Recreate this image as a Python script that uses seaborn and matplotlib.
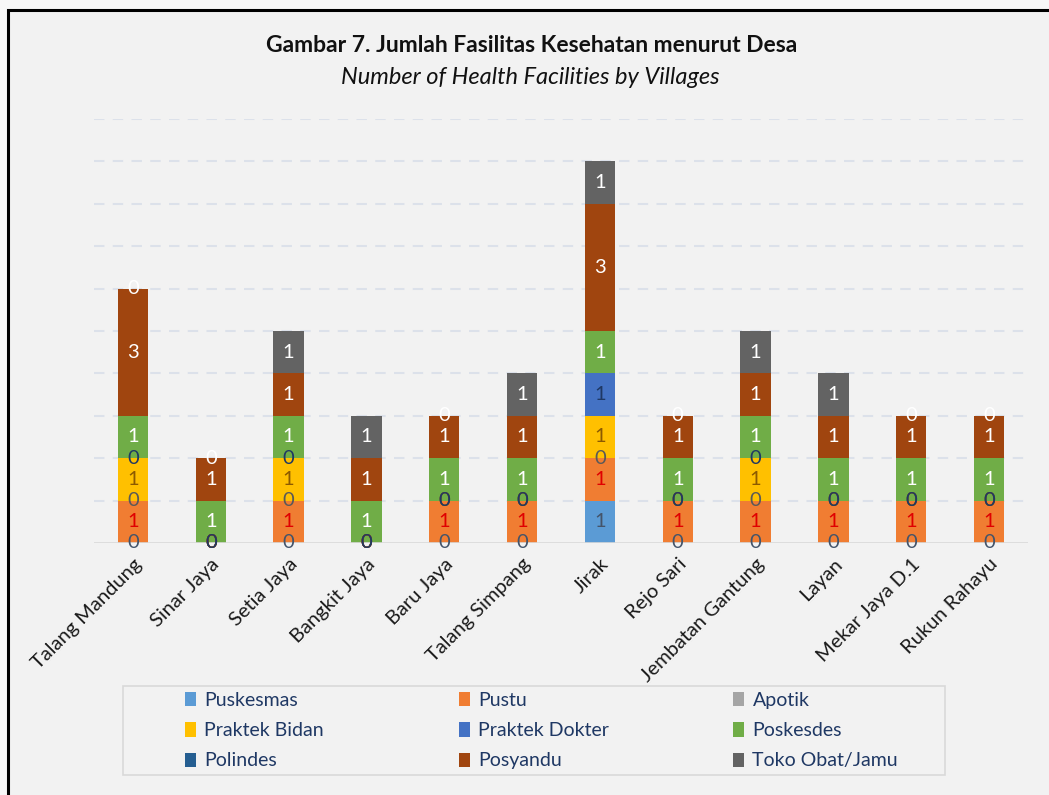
import matplotlib
matplotlib.use("Agg")
import matplotlib.pyplot as plt
import seaborn as sns
import numpy as np
from matplotlib.patches import Rectangle, Patch

desa = ["Talang Mandung", "Sinar Jaya", "Setia Jaya", "Bangkit Jaya", "Baru Jaya",
        "Talang Simpang", "Jirak", "Rejo Sari", "Jembatan Gantung", "Layan",
        "Mekar Jaya D.1", "Rukun Rahayu"]

seri = ["Puskesmas", "Pustu", "Apotik", "Praktek Bidan", "Praktek Dokter",
        "Poskesdes", "Polindes", "Posyandu", "Toko Obat/Jamu"]

puskesmas = [0, 0, 0, 0, 0, 0, 1, 0, 0, 0, 0, 0]
pustu     = [1, 0, 1, 0, 1, 1, 1, 1, 1, 1, 1, 1]
apotik    = [0, 0, 0, 0, 0, 0, 0, 0, 0, 0, 0, 0]
bidan     = [1, 0, 1, 0, 0, 0, 1, 0, 1, 0, 0, 0]
dokter    = [0, 0, 0, 0, 0, 0, 1, 0, 0, 0, 0, 0]
poskesdes = [1, 1, 1, 1, 1, 1, 1, 1, 1, 1, 1, 1]
polindes  = [0, 0, 0, 0, 0, 0, 0, 0, 0, 0, 0, 0]
posyandu  = [3, 1, 1, 1, 1, 1, 3, 1, 1, 1, 1, 1]
toko      = [0, 0, 1, 1, 0, 1, 1, 0, 1, 1, 0, 0]

nilai = [puskesmas, pustu, apotik, bidan, dokter, poskesdes, polindes, posyandu, toko]

warna = ["#5B9BD5", "#F07D32", "#A5A5A5", "#FFC000", "#4472C4",
         "#70AD47", "#255E91", "#A0450F", "#636363"]
warna_label = ["#44546A", "#E00000", "#595959", "#8C5A00", "#1F3864",
               "white", None, "white", "white"]

plt.rcParams["font.family"] = ["Lato", "DejaVu Sans"]

fig = plt.figure(figsize=(10.49, 7.95), dpi=100, facecolor="#F2F2F2")
fig.patches.append(Rectangle((0, 0), 1, 1, transform=fig.transFigure,
                             facecolor="#F7F7F7", edgecolor="none", zorder=-3))
fig.patches.append(Rectangle((8 / 1049, -0.01), 1.1, 1 - 10 / 795 + 0.01,
                             transform=fig.transFigure, facecolor="#F2F2F2",
                             edgecolor="black", linewidth=2.2, zorder=-2))

ax = fig.add_axes([94 / 1049, (795 - 543) / 795, (1028 - 94) / 1049, (543 - 119) / 795])
ax.set_facecolor("none")

bawah = np.zeros(len(desa))
for nama, v, c, lc in zip(seri, nilai, warna, warna_label):
    v = np.array(v, dtype=float)
    sns.barplot(x=desa, y=v, bottom=bawah, color=c, width=0.39, ax=ax,
                saturation=1, zorder=3)
    if lc is not None:
        for i in range(len(desa)):
            ax.text(i, bawah[i] + v[i] / 2, f"{int(v[i])}", ha="center", va="center",
                    fontsize=14.5, color=lc, zorder=5, clip_on=False)
    bawah = bawah + v

ax.set_ylim(0, 10)
ax.set_xlim(-0.5, len(desa) - 0.5)
ax.set_yticks([])
for y in range(1, 11):
    ax.axhline(y, color="#DCE1EA", lw=1.5, ls=(0, (5, 4)), zorder=1)
ax.axhline(0, color="#D9D9D9", lw=1.2, zorder=4)
for s in ax.spines.values():
    s.set_visible(False)
ax.tick_params(axis="x", length=0, pad=9)
ax.set_xticks(range(len(desa)))
ax.set_xticklabels(desa, rotation=45, ha="right", rotation_mode="anchor",
                   fontsize=14.5, color="#1A1A1A")
ax.set_xlabel("")
ax.set_ylabel("")

fig.text(532 / 1049, 1 - 45 / 795, "Gambar 7. Jumlah Fasilitas Kesehatan menurut Desa",
         ha="center", va="center", fontsize=16.5, fontweight="bold", color="#111111")
fig.text(530 / 1049, 1 - 77 / 795, "Number of Health Facilities by Villages",
         ha="center", va="center", fontsize=17, fontstyle="italic", color="#111111")

# legenda: bingkai + tiga kolom dengan lebar sama
fig.patches.append(Rectangle((123 / 1049, 1 - 775 / 795), (945 - 123) / 1049, 89 / 795,
                             transform=fig.transFigure, facecolor="#F2F2F2",
                             edgecolor="#D9D9D9", linewidth=1.2, zorder=-1))
handles = [Patch(facecolor=c, edgecolor="none") for c in warna]
kolom_x = [185, 459, 733]
for k in range(3):
    idx = [k, k + 3, k + 6]
    lg = fig.legend([handles[i] for i in idx], [seri[i] for i in idx],
                    loc="upper left", bbox_to_anchor=(kolom_x[k] / 1049, 1 - 692 / 795),
                    frameon=False, fontsize=14, handlelength=0.55, handleheight=0.75,
                    handletextpad=0.45, labelspacing=0.68, borderpad=0,
                    borderaxespad=0, labelcolor="#1F3864")

fig.savefig("out.png", dpi=100, facecolor=fig.get_facecolor())
